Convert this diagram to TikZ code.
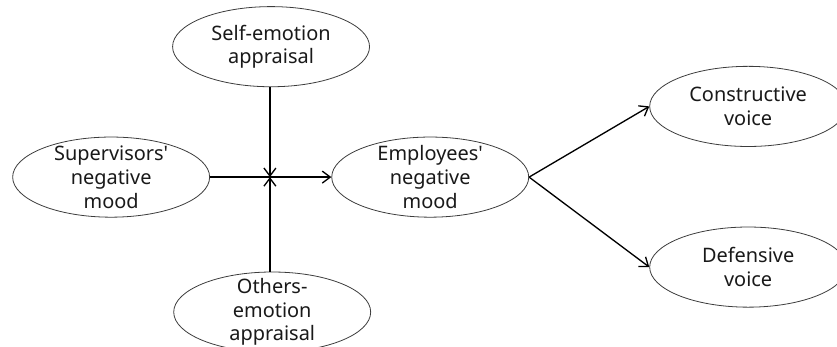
\documentclass[tikz,border=0pt]{standalone}
\usepackage{fontspec}
\setmainfont{Noto Sans}
\usetikzlibrary{positioning,shapes.geometric,arrows.meta}
\definecolor{linecolor}{RGB}{60,60,60}
\definecolor{textcolor}{RGB}{25,25,25}

\begin{document}
\begin{tikzpicture}[
		% Factor styles
		factor/.style={ellipse, minimum width=5.21cm, minimum height=2.12cm, inner xsep=0pt, inner ysep=-10pt,
			draw=linecolor, line width=0.6pt, fill=white, align=center, text=textcolor,
			font=\fontsize{15}{17.8}\selectfont},
		% Arrow styles
		arrow/.style={-{Straight Barb[length=6pt,width=9pt]}, line width=1pt, black}
		]
		
		\useasboundingbox (0,0) rectangle (22.14,9.155);
		\clip (0,0) rectangle (22.14,9.155);
		
		% Factors
		\node[factor] (sup_mood) at (2.94,4.47) {Supervisors\textquotesingle\\negative\\mood};
		\node[factor] (self_app) at (7.17,7.92) {Self-emotion\\appraisal};
		\node[factor] (others_app) at (7.20,0.90) {Others-\\emotion\\appraisal};
		\node[factor] (emp_mood) at (11.38,4.47) {Employees\textquotesingle\\negative\\mood};
		\node[factor] (cons_voice) at (19.79,6.34) {Constructive\\voice};
		\node[factor] (def_voice) at (19.79,2.09) {Defensive\\voice};
		
		% Moderation point
		\coordinate (moderate) at (7.14,4.47);
		
		% Main path
		\draw[arrow] (sup_mood) -- (emp_mood);
		\draw[arrow] (emp_mood.east) -- (cons_voice.west);
		\draw[arrow] (emp_mood.east) -- (def_voice.west);
		
		% Moderator arrows
		\draw[arrow] (self_app.south -| moderate) -- (moderate);
		\draw[arrow] (others_app.north -| moderate) -- (moderate);
		
	\end{tikzpicture}
\end{document}
